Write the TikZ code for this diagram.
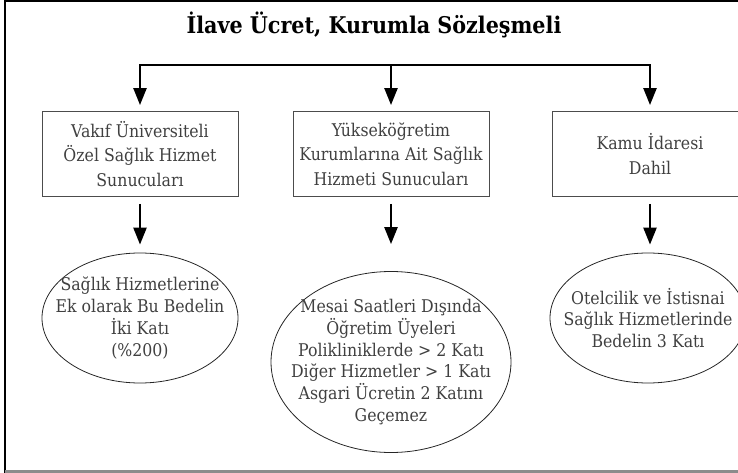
\documentclass[tikz,border=0pt]{standalone}
\usepackage{fontspec}
\setmainfont{DejaVu Serif Condensed}
\usetikzlibrary{positioning, shapes, arrows.meta, calc}

\begin{document}
\begin{tikzpicture}[x=1pt, y=-1pt,
    kutu/.style={rectangle, draw=black!70, line width=0.9pt, minimum width=196pt, minimum height=85pt,
      align=center, text=black!75, font=\fontsize{17.5}{24.5}\selectfont},
    oval/.style={ellipse, draw=black!85, line width=0.8pt, inner sep=0pt},
    metin/.style={align=center, text=black!75, font=\fontsize{17.5}{21.8}\selectfont},
    ok/.style={line width=2.4pt, -{Triangle[width=13pt,length=17pt]}}]
  % Frame
  \clip (0,0) rectangle (738,473);
  \draw[line width=1.6pt] (5,480) -- (5,1) -- (745,1);
  \draw[black!45, line width=3pt] (5,471) -- (745,471);

  % Title
  \node[font=\bfseries\fontsize{23}{28}\selectfont] (baslik) at (374,25) {İlave Ücret, Kurumla Sözleşmeli};
  \coordinate (kol) at (391,65);

  % Nodes
  \node[kutu] (kutu1) at (140,154) {Vakıf Üniversiteli\\Özel Sağlık Hizmet\\Sunucuları};
  \node[kutu] (kutu2) at (391,154) {Yükseköğretim\\Kurumlarına Ait Sağlık\\Hizmeti Sunucuları};
  \node[kutu] (kutu3) at (650,154) {Kamu İdaresi\\Dahil};

  \node[oval, minimum width=196pt, minimum height=130pt] (oval1) at (140,318) {};
  \node[oval, minimum width=240pt, minimum height=181pt] (oval2) at (391,362) {};
  \node[oval, minimum width=196pt, minimum height=130pt] (oval3) at (648,318) {};
  \node[metin] (metin1) at (oval1) {Sağlık Hizmetlerine\\Ek olarak Bu Bedelin\\İki Katı\\(\%200)};
  \node[metin] (metin2) at (oval2) {Mesai Saatleri Dışında\\Öğretim Üyeleri\\Polikliniklerde > 2 Katı\\Diğer Hizmetler > 1 Katı\\Asgari Ücretin 2 Katını\\Geçemez};
  \node[metin] (metin3) at (oval3) {Otelcilik ve İstisnai\\Sağlık Hizmetlerinde\\Bedelin 3 Katı};

  % Arrows
  \draw[ok, shorten >=6pt] (kol) -| (kutu1.north);
  \draw[ok, shorten >=6pt] (kol) -- (kutu2.north);
  \draw[ok, shorten >=6pt] (kol) -| (kutu3.north);
  \foreach \i/\s in {1/8,2/27,3/8}
  \draw[ok, shorten <=7pt, shorten >=\s pt] (kutu\i.south) -- (kutu\i.south |- oval\i.north);
\end{tikzpicture}
\end{document}
